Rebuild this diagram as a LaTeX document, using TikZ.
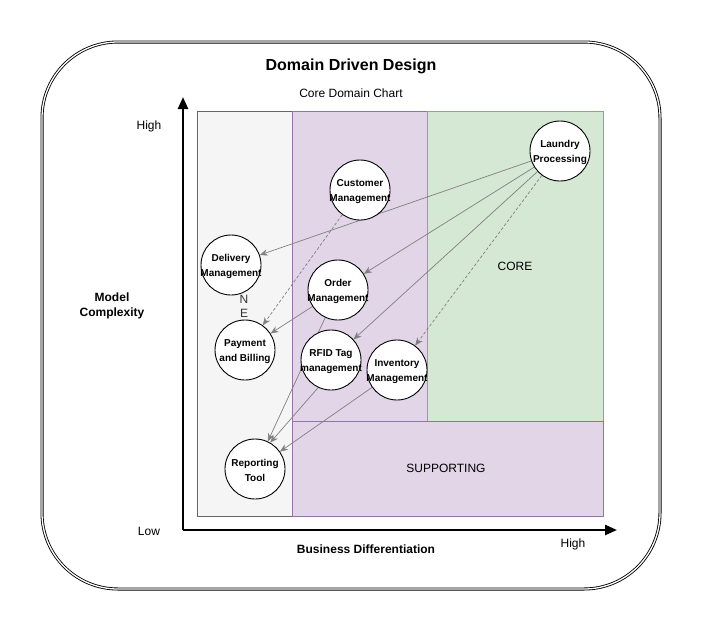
\documentclass[tikz,border=0pt]{standalone}
\usepackage{fontspec}
\setmainfont{Liberation Sans}
\usetikzlibrary{arrows.meta}
\definecolor{grayfill}{HTML}{F5F5F5}
\definecolor{graystroke}{HTML}{666666}
\definecolor{purfill}{HTML}{E1D5E7}
\definecolor{purstroke}{HTML}{9673A6}
\definecolor{grnfill}{HTML}{D5E8D4}
\definecolor{grnstroke}{HTML}{82B366}
\definecolor{edgegray}{HTML}{808080}
\definecolor{labelgray}{HTML}{333333}
\pgfdeclarelayer{bg}
\pgfdeclarelayer{edges}
\pgfsetlayers{bg,edges,main}
\begin{document}
\begin{tikzpicture}[x=1pt,y=-1pt,
  domcircle/.style={circle, draw=black, fill=white, line width=0.9pt, minimum size=60pt, inner sep=0pt},
  dtext/.style={align=center, inner sep=0pt, font=\bfseries\fontsize{10}{15}\selectfont},
  dep/.style={draw=edgegray, line width=0.7pt, -{Stealth[length=8pt,width=6.5pt]}},
  depdash/.style={dep, dash pattern=on 3pt off 2pt},
  axisline/.style={line width=2.4pt, -{Triangle[length=12pt,width=10pt]}},
  region/.style={line width=0.8pt},
  txt/.style={font=\fontsize{12}{14}\selectfont, inner sep=0pt},
  btxt/.style={font=\bfseries\fontsize{12}{15}\selectfont, inner sep=0pt, align=center}]
\useasboundingbox (0,0) rectangle (701,632);
% regions
\begin{pgfonlayer}{bg}
\fill[white] (0,0) rectangle (701,632);
\draw[region, fill=grayfill, draw=graystroke] (197,111) rectangle (292,516);
\draw[region, fill=purfill, draw=purstroke] (292,111) rectangle (427,421);
\draw[region, fill=grnfill, draw=grnstroke] (427,111) rectangle (603,421);
\draw[region, fill=purfill, draw=purstroke] (292,421) rectangle (603,516);
\end{pgfonlayer}
% outer frame
\draw[draw=black, line width=0.85pt, double=white, double distance=1.3pt, rounded corners=76pt] (42,42) rectangle (660,589);
% titles
\node[font=\bfseries\fontsize{16}{19}\selectfont, inner sep=0pt] (title) at (351,66) {Domain Driven Design};
\node[txt] (subtitle) at (351,93) {Core Domain Chart};
\node[txt] (core) at (515,266) {CORE};
\node[txt] (supporting) at (446,468) {SUPPORTING};
% axes
\coordinate (origin) at (183,530);
\coordinate (ytip) at (183,97);
\coordinate (xtip) at (617,530);
\draw[axisline] (origin) -- (ytip);
\draw[axisline] (origin) -- (xtip);
\node[txt] (yhigh) at (149,126) {High};
\node[txt] (ylow) at (149,531) {Low};
\node[txt] (xhigh) at (573,544) {High};
\node[btxt] (xlabel) at (366,549) {Business Differentiation};
\node[btxt] (ylabel) at (112,306) {Model\\Complexity};
% domains
\node[domcircle] (laundry) at (560,151) {};
\node[dtext] at ([yshift=-1.5pt]laundry.center) {Laundry\\Processing};
\node[domcircle] (customer) at (360,190) {};
\node[dtext] at ([yshift=-1.5pt]customer.center) {Customer\\Management};
\node[domcircle] (delivery) at (231,265) {};
\node[dtext] at ([yshift=-1.5pt]delivery.center) {Delivery\\Management};
\node[domcircle] (order) at (338,290) {};
\node[dtext] at ([yshift=-1.5pt]order.center) {Order\\Management};
\node[domcircle] (payment) at (245,350) {};
\node[dtext] at ([yshift=-1.5pt]payment.center) {Payment\\and Billing};
\node[domcircle] (rfid) at (331,360) {};
\node[dtext] at ([yshift=-1.5pt]rfid.center) {RFID Tag\\management};
\node[domcircle] (inventory) at (397,370) {};
\node[dtext] at ([yshift=-1.5pt]inventory.center) {Inventory\\Management};
\node[domcircle] (reporting) at (255,469) {};
\node[dtext] at ([yshift=-1.5pt]reporting.center) {Reporting\\Tool};
% stray label
\node[font=\fontsize{12}{14}\selectfont, text=labelgray, align=center, inner sep=0pt] (ne) at (244,306) {N\\E};
% dependencies
\begin{pgfonlayer}{edges}
\draw[dep] (laundry) -- (delivery);
\draw[dep] (laundry) -- (order);
\draw[dep] (laundry) -- (rfid);
\draw[depdash] (laundry) -- (inventory);
\draw[depdash] (customer) -- (payment);
\draw[dep] (order) -- (payment);
\draw[dep] (order) -- (reporting);
\draw[dep] (rfid.245) -- (reporting.60);
\draw[dep] (inventory) -- (reporting);
\end{pgfonlayer}
\end{tikzpicture}
\end{document}
